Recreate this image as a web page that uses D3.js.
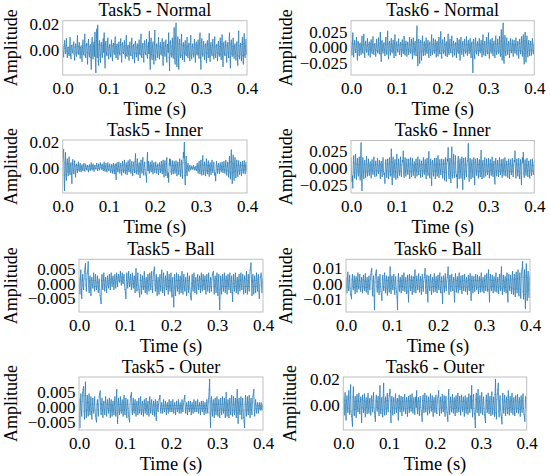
<!DOCTYPE html>
<html>
<head>
<meta charset="utf-8">
<script src="https://cdn.jsdelivr.net/npm/d3@7"></script>
<style>
  body { margin: 0; background: #fff; }
  text { font-family: "Liberation Serif", "Times New Roman", serif; fill: #000; }
</style>
</head>
<body>
<div id="chart"></div>
<script>
// signal samples, amplitude in units of 1e-4, one sample every 1 ms (0 .. 0.4 s)
var t5Normal = [
  40,-20,-55,25,70,10,-30,35,85,-15,-60,20,20,-30,-45,15,95,-40,-70,30,35,-10,-25,40,60,-35,-80,20,45,-25,-50,30,110,-20,-35,25,55,-30,-65,15,
  30,-35,-90,20,75,-25,-40,30,120,-45,-60,35,50,-20,-110,40,80,-30,-55,25,40,-60,-150,50,95,-40,-70,30,60,-50,135,-80,-176,70,160,-60,190,-90,-120,40,
  70,-40,-95,35,55,-25,-60,30,85,-20,130,-50,-140,45,65,-30,-45,25,90,-35,-70,20,40,-25,-55,35,75,-40,-85,30,50,-15,-35,40,100,-30,-60,25,45,-20,
  -75,30,60,-25,-40,35,85,-30,-95,40,55,-20,-30,25,70,-35,-65,30,110,-45,-50,20,35,-30,-80,25,60,-35,-45,20,90,-40,-70,30,40,-25,-100,45,65,-30,
  -55,20,45,-30,-85,35,75,-25,-40,30,120,-50,-60,25,50,-35,-95,40,70,-20,-35,30,80,-40,-65,25,55,-30,140,-60,-150,55,90,-35,-75,30,60,-45,-110,40,
  150,-50,-80,30,45,-20,-60,35,95,-40,-70,25,55,-30,-40,20,85,-45,-120,50,60,-25,-50,30,75,-35,-95,40,40,-20,130,-60,-160,55,70,-30,-55,25,90,-35,
  -65,60,170,-70,-110,90,206,-80,-130,60,100,-50,-150,45,80,-35,-60,40,120,-45,-75,30,55,-25,-90,35,70,-30,-45,20,95,-40,-60,25,50,-30,-85,40,110,-40,
  -70,25,45,-30,-55,20,80,-35,-95,40,60,-25,-40,30,75,-30,-65,50,130,-60,-150,55,85,-30,-50,25,65,-35,-75,30,45,-20,-100,40,70,-30,-60,45,125,-50,
  -90,35,55,-25,-45,30,80,-35,-70,25,100,-40,-60,30,40,-20,-85,35,65,-30,-50,25,90,-35,-75,45,115,-50,-130,45,60,-25,-45,30,70,-40,-95,35,55,-25,
  -60,50,130,-55,-140,45,75,-30,-50,25,90,-35,-65,30,45,-25,-80,30,60,-45,-120,60,145,-50,-70,30,50,-35,-85,40,95,-45,-110,50,125,-40,-60,30,80,-30,
  -40];
var t6Normal = [
  90,-50,-120,60,230,-90,-150,55,110,-40,-80,45,160,-70,-200,80,95,-45,-130,50,70,-35,-110,40,180,-60,-90,50,210,-85,-160,55,100,-40,-75,35,140,-55,-120,45,
  85,-40,-150,60,120,-50,-95,45,170,-65,-110,40,60,-30,-140,55,130,-50,-85,35,150,-55,-100,60,240,-100,-220,90,110,-45,-90,40,75,-35,-130,50,160,-60,-105,45,
  260,-90,-180,70,95,-40,-120,50,140,-55,-85,40,115,-50,-160,65,200,-80,-130,50,90,-35,-70,30,135,-55,-110,45,80,-35,-145,55,120,-45,-95,40,175,-70,-120,50,
  100,-45,-140,55,85,-35,-110,45,160,-60,-90,40,130,-55,-180,70,150,-60,-120,45,95,-40,-130,120,340,-130,-290,110,130,-90,-250,80,110,-70,-200,75,180,-60,-130,50,
  90,-40,-120,50,150,-55,-95,40,110,-50,-160,60,85,-35,-130,55,200,-75,-110,45,140,-50,-90,35,120,-45,-150,60,95,-40,-135,55,160,-60,-100,80,250,-90,-170,60,
  120,-50,-95,40,160,-60,-130,50,90,-40,-145,70,210,-80,-110,45,130,-50,-85,35,180,-70,-150,55,100,-40,-120,45,75,-35,-160,60,145,-55,-90,40,120,-70,-200,80,
  160,-60,-110,45,95,-40,-140,55,130,-50,-90,40,170,-65,-125,50,110,-45,-95,40,140,-55,-160,60,85,-150,-398,130,120,-70,-180,65,150,-55,-100,40,90,-45,-130,50,
  140,-50,-85,40,110,-45,-150,60,200,-75,-120,45,95,-40,-130,55,160,-60,-100,80,230,-85,-170,60,120,-45,-90,40,145,-55,-130,50,100,-45,-160,65,180,-70,-110,45,
  130,-50,-95,60,175,-65,-140,100,280,-110,-200,150,386,-140,-250,90,190,-70,-130,55,150,-55,-110,45,95,-40,-160,60,140,-50,-85,40,120,-45,-140,50,110,-40,-90,40,
  150,-55,-120,45,95,-50,-170,65,130,-50,-100,60,170,-65,-140,90,200,-100,-260,110,240,-100,-230,85,180,-70,-150,55,110,-45,-130,50,95,-40,-120,55,140,-50,-100,40,
  80];
var t5Inner = [
  50,90,145,-60,-176,40,120,-50,-95,30,70,-25,-60,35,85,-30,-50,20,40,-45,-120,30,65,-20,-45,25,55,-30,-70,20,30,-15,-35,20,45,-15,-25,15,35,-10,
  -30,10,25,-10,-20,15,35,-10,-25,10,30,-5,-15,10,20,-15,-30,10,25,-10,-20,15,40,-5,-15,20,30,-10,-25,15,20,-5,-10,20,35,-5,-20,15,30,-5,
  -15,25,40,5,-10,20,30,-5,-20,15,45,-10,-25,15,35,-15,-30,10,40,-10,-20,15,30,-15,-35,10,25,-20,-40,15,35,-20,-45,10,30,-40,-90,25,40,-15,
  -30,20,45,-15,-40,15,35,-20,-55,20,50,-15,-35,25,60,-20,-45,15,40,-20,-50,20,55,-10,-30,25,65,-20,-40,15,50,-25,-60,20,45,-15,-35,50,110,-30,
  -45,25,70,-20,-50,15,40,-25,-75,25,60,-15,-40,30,80,-25,-55,20,45,-15,-45,-60,-110,40,120,-20,50,-15,-40,15,45,-10,-30,20,55,-15,-45,15,40,-10,
  -35,15,45,-10,-40,15,30,-15,-50,20,40,-10,-35,15,50,-15,-45,20,60,-25,-70,25,55,-20,-60,30,80,-30,-75,-40,-110,30,70,20,65,-25,-50,20,55,-20,
  -45,20,50,-15,-40,20,55,-20,-60,25,45,-20,-50,25,70,-25,-65,30,60,-30,-80,40,120,80,199,-60,-130,40,90,-30,-60,15,35,-10,-25,10,20,-5,-15,5,
  15,-5,-10,5,20,-5,-15,5,10,-10,-20,10,35,-15,-40,15,50,-20,-45,20,60,-25,-55,30,95,-20,-50,20,45,-15,-60,25,70,-20,-45,20,55,-25,-65,20,
  40,-15,-50,20,60,-15,-35,15,45,-20,-55,-40,-100,20,50,-15,-40,15,35,-10,-45,15,40,-10,-30,15,45,-15,-35,10,50,-15,-40,20,60,-20,-55,15,45,-20,
  -70,35,90,-30,-85,50,140,-40,-120,35,100,-30,-95,30,80,-25,-75,20,60,-25,-65,20,55,-20,-50,15,45,-20,-60,20,50,-15,-40,20,55,-15,-45,15,40,-10,
  -30];
var t6Inner = [
  150,-60,-200,-120,-300,80,180,-70,-150,60,200,-80,-170,55,140,-50,-120,45,160,-60,-180,150,372,-120,-338,90,150,-60,-160,50,110,-45,-140,55,170,-60,-120,45,130,-50,
  -110,40,90,-35,-150,50,120,-45,-95,35,160,-55,-130,45,100,-40,-120,50,140,-50,-85,30,110,-45,-160,55,95,-35,-130,45,150,-55,-100,-80,-230,70,120,-45,-140,50,
  130,-55,-160,60,150,-50,-120,90,280,-100,-250,80,160,-60,-140,50,120,-55,-170,65,200,-70,-150,55,130,-45,-110,40,160,-55,-130,45,110,90,250,-80,-140,55,150,-55,
  -120,45,130,-40,-95,35,130,-50,-160,55,150,-50,-130,45,140,-50,-110,40,90,-35,-150,55,130,-45,-120,50,160,-55,-100,40,120,-45,-140,50,100,-40,-130,50,150,-50,
  -95,40,120,-50,-160,55,140,-45,-110,80,240,-90,-150,50,130,-90,-260,80,110,-45,-120,45,140,-50,-160,55,140,-45,-120,60,180,-65,-140,50,120,-40,-100,45,130,-50,
  -150,55,120,-60,-180,65,150,-70,-200,60,130,100,300,-100,-160,60,140,-80,-220,100,310,-110,-150,70,200,-70,-140,60,180,-60,-130,-100,-300,90,170,-60,-160,55,130,-50,
  -150,60,160,-100,-320,90,140,-60,-170,55,150,-50,-130,45,110,120,360,-120,-200,70,140,-55,-160,50,120,-45,-140,55,150,-80,-250,80,130,-45,-110,45,140,-55,-150,50,
  120,-50,-130,90,260,-90,-160,55,110,-45,-140,50,150,-50,-120,45,130,-45,-100,40,140,-55,-150,50,120,-40,-110,45,160,-55,-130,45,100,-80,-240,75,140,-50,-120,45,
  110,-45,-130,50,150,-50,-100,40,120,-45,-140,50,130,-45,-110,40,150,-55,-120,45,100,-40,-140,50,130,-55,-160,55,120,-45,-100,40,140,-50,-130,45,110,90,250,-80,
  -150,50,130,-45,-120,45,140,-55,-160,50,120,-80,-250,70,150,80,230,-80,-140,50,120,-45,-110,40,140,-50,-130,45,100,-40,-150,50,120,-45,-110,40,130,-45,-100,40,
  90];
var t5Ball = [
  20,-10,-35,15,45,-20,-50,10,30,-5,-20,15,40,50,67,-5,-25,15,35,45,73,-10,-30,10,25,-15,-40,10,20,-5,-15,10,35,-10,-25,10,30,-10,-20,5,
  25,-10,-30,5,15,-20,-40,-50,-67,10,30,-10,-20,10,35,-5,-25,10,20,-10,-30,5,25,-5,-15,10,30,0,-20,15,35,5,-10,15,25,0,-20,10,30,5,
  -15,15,35,5,-10,20,30,10,5,25,40,10,-5,20,35,5,0,20,30,-5,-20,-30,-50,10,35,0,-15,20,40,5,-10,15,30,-5,-20,15,35,0,-15,10,
  25,-10,-30,20,50,-5,-25,15,35,-5,-20,-30,-45,10,30,-10,-35,10,25,-10,-20,15,40,-10,-30,5,20,-15,-35,10,30,-10,-25,15,35,-5,-20,20,40,-10,
  -30,10,35,45,55,-5,-25,10,30,-15,-40,5,20,-15,-35,10,30,-10,-25,20,45,-10,-30,15,35,-15,-40,10,25,-5,-20,15,40,-10,-35,10,30,-10,-25,10,
  35,-15,-45,5,20,-40,-78,-10,30,-15,-40,10,35,-10,-25,10,30,-15,-35,10,25,-10,-30,15,40,-15,-35,10,30,-10,-25,5,20,-20,-40,10,35,-10,-30,10,
  25,-15,-35,-45,-55,0,30,-10,-25,10,35,-10,-30,5,20,-15,-35,10,30,-5,-20,10,25,-10,-30,15,35,-10,-25,10,30,-5,-20,10,25,-15,-35,10,30,-10,
  -25,10,35,-10,-30,5,20,-10,-25,15,30,35,40,-10,-35,10,25,-10,-30,15,35,-15,-40,10,30,-50,-87,-20,25,-10,-35,10,30,-10,-25,15,35,-10,-30,10,
  25,-10,-35,10,30,-5,-20,15,35,-10,-30,10,25,-30,-60,0,30,-10,-25,10,35,-10,-30,5,20,-15,-35,10,30,-10,-25,10,35,-5,-20,15,30,-10,-35,10,
  25,-10,-30,15,40,-10,-35,10,30,-10,-25,20,45,55,69,10,-40,5,30,-10,-35,10,25,-10,-30,10,35,-10,-25,15,30,-25,-50,-5,20,25,35,-10,-30,5,
  20];
var t6Ball = [
  40,-20,-60,30,75,-25,-45,20,55,-30,-70,-80,-99,25,60,-20,-40,15,50,-25,-65,20,45,-20,-55,25,70,-20,-35,20,60,-25,-50,15,40,-20,-60,25,55,-20,
  -45,20,65,-25,-55,15,40,-25,-70,20,50,-15,-40,30,60,80,99,-30,-80,20,50,-80,-170,10,60,70,90,-20,-55,15,45,-25,-70,25,60,-20,-50,-70,-110,30,
  55,-20,-45,25,70,-25,-60,20,50,-30,-75,20,45,-20,-55,40,110,-30,-65,20,50,-15,-40,20,60,-25,-70,15,45,-30,-55,-90,-170,20,65,-20,-50,15,40,-20,
  -60,20,55,-20,-45,25,70,-20,-50,15,40,-25,-65,20,55,-50,-120,25,60,-20,-45,20,50,-25,-70,20,45,-20,-55,40,90,-25,-60,20,50,-15,-40,25,65,-20,
  -55,20,45,-25,-70,25,60,-20,-50,15,40,60,100,-25,-65,20,55,-50,-120,20,50,-20,-45,25,60,-25,-70,15,40,-20,-55,25,65,-20,-50,15,45,-25,-60,20,
  55,-15,-40,25,70,-25,-60,15,45,-60,-130,15,50,-20,-55,25,65,-20,-45,15,40,60,110,-30,-70,20,55,-20,-50,25,60,-20,-45,15,40,-50,-120,25,65,-20,
  -55,20,45,-20,-60,25,70,-20,-40,15,50,-25,-65,20,55,-20,-45,20,60,-20,-50,15,40,-25,-70,20,55,-20,-45,25,65,-40,-110,20,50,-25,-60,20,45,-20,
  -50,20,60,-15,-40,20,55,-25,-65,20,45,-20,-55,25,70,-20,-50,15,40,-25,-60,20,55,-20,-45,25,65,-20,-50,40,90,-40,-120,25,60,-20,-45,20,55,-20,
  -60,20,45,-20,-50,25,70,-20,-55,15,40,-25,-65,25,60,-20,-45,50,110,-30,-70,20,55,-20,-50,15,45,-25,-60,25,70,-50,-120,25,60,-20,-45,20,55,-25,
  -65,30,80,-30,-70,25,60,-35,-85,30,75,-30,-60,35,90,-35,-80,30,70,-40,-95,40,85,100,144,-50,-100,40,90,-70,-164,50,130,-50,-110,40,80,-40,-90,30,
  60];
var t5Outer = [
  30,-30,-69,10,45,-10,-30,20,50,60,70,-15,-40,40,85,-10,-35,15,40,-10,-30,15,45,-10,-25,10,35,-15,-40,10,30,-10,-20,10,35,-10,-30,-40,-50,10,
  25,-10,-30,10,35,45,55,-5,-25,10,30,-10,-35,10,20,-10,-25,15,35,-10,-30,10,25,-5,-20,10,30,-10,-35,10,25,-10,-30,5,20,-10,-25,10,35,-10,
  -30,20,60,-20,-55,10,30,-10,-25,10,35,-10,-20,10,25,-10,-30,15,40,-10,-25,10,30,-10,-35,10,25,-5,-30,-40,-50,10,35,40,50,-10,-25,10,30,-10,
  -20,10,25,-10,-30,10,20,-5,-25,10,30,-10,-20,15,35,-10,-25,10,20,-10,-30,10,25,-5,-20,10,30,-10,-25,5,20,-10,-30,15,35,-5,-20,10,25,-10,
  -25,5,20,-10,-30,10,25,-20,-45,5,20,-5,-15,10,25,30,40,-5,-20,5,15,-5,-20,5,25,-5,-15,5,20,-5,-25,5,15,-5,-20,5,25,-5,-15,5,
  20,-5,-15,5,25,-5,-20,5,15,-5,-25,5,20,-5,-15,5,25,-5,-20,5,15,-5,-20,5,25,-5,-15,10,20,30,40,-5,-20,5,15,-5,-25,5,20,-5,
  -15,5,20,-5,-25,5,15,-5,-20,5,25,-5,-15,5,20,-5,-15,5,25,-5,-20,5,15,-5,-25,5,20,-5,-15,5,20,-5,-25,5,15,-5,-20,5,25,-5,
  -20,15,30,60,94,-20,-68,20,35,-10,-30,10,25,-10,-35,10,30,-10,-25,10,35,-10,-30,10,25,-10,-35,10,30,-5,-25,10,35,-10,-20,10,30,-10,-35,15,
  50,-10,-30,10,25,-10,-35,10,30,-10,-25,15,40,-10,-30,10,35,-10,-25,10,30,-10,-35,20,60,-20,-55,15,30,-10,-25,10,35,-15,-40,10,30,-10,-35,-50,
  -69,10,40,-10,-30,10,35,-10,-25,15,40,-10,-35,10,30,-10,-25,15,35,45,60,-10,-30,10,25,-5,-20,5,15,-5,-20,5,15,-5,-10,5,15,-5,-10,5,
  10];
var t6Outer = [
  60,-30,-80,35,95,-45,-120,30,70,-25,-60,40,110,-30,-75,60,156,-50,-90,-120,-169,60,140,-40,-85,25,65,-35,-100,30,80,-25,-55,30,90,-30,-70,25,60,-25,
  -140,40,75,-25,-60,30,85,-35,-95,25,55,-20,-70,35,90,-30,-65,20,50,-25,-80,30,70,-20,-55,35,95,-25,-60,-90,-130,30,75,-20,-50,25,65,-30,-85,50,
  150,-40,-70,25,55,-35,-95,60,169,-40,-80,25,60,-30,-75,35,90,-25,-55,30,70,90,120,-50,-140,30,65,-25,-80,30,55,-25,-70,30,85,-30,-60,20,50,-25,
  -120,35,75,-25,-55,25,65,-30,-85,25,60,-20,-50,30,80,-30,-70,25,55,-30,-90,30,65,-25,-60,30,75,-20,-50,35,85,-30,-65,20,55,-30,-75,25,60,-20,
  110,-35,-70,25,55,-30,-85,25,65,-20,-50,-80,-130,35,75,-25,-60,35,90,-30,-55,25,70,-30,-80,25,60,-25,-65,30,85,-20,-50,25,70,-35,-90,25,55,-25,
  -60,30,75,-30,-70,20,55,70,110,-35,-85,30,60,-25,-65,30,80,-25,-55,20,70,-35,-90,25,65,-20,-60,-80,-130,50,120,-40,-75,25,60,-20,-55,30,80,-30,
  -65,25,55,-30,-85,30,70,-25,-60,35,90,-25,-55,20,65,-30,-80,30,75,-20,-50,25,60,-35,-90,30,70,-25,-65,20,55,-30,-75,35,85,-25,-60,25,70,-30,
  150,-40,-95,30,80,-30,-70,-110,-179,40,90,-25,-60,50,120,-35,-85,25,70,-25,-65,35,95,-30,-75,20,60,-30,-80,-100,-140,30,75,-25,-60,35,90,-30,-70,25,
  65,-30,-85,40,100,-30,-75,25,60,-40,-90,80,199,-60,-110,40,85,120,170,-50,-95,30,70,-35,-80,-100,-150,40,90,-25,-65,30,75,-35,-85,25,60,-25,-70,40,
  110,-30,-80,25,65,-20,-60,35,90,-30,-75,20,55,-35,-85,30,70,-25,-60,30,80,-30,-65,20,55,-35,-90,30,70,-25,-60,35,85,-30,-75,-90,-130,30,65,-20,
  -50];

var sampleStep = 0.001;   // seconds between samples
var ampUnit = 1e-4;

var titles = ["Task5 - Normal", "Task6 - Normal", "Task5 - Inner", "Task6 - Inner",
              "Task5 - Ball", "Task6 - Ball", "Task5 - Outer", "Task6 - Outer"];
var xTicks = [0, 0.1, 0.2, 0.3, 0.4];
var xTickLabels = ["0.0", "0.1", "0.2", "0.3", "0.4"];
var yTicks2 = [0, 0.02];
var yTickLabels2 = ["0.00", "0.02"];
var yTicks025 = [-0.025, 0, 0.025];
var yTickLabels025 = ["\u22120.025", "0.000", "0.025"];
var yTicks005 = [-0.005, 0, 0.005];
var yTickLabels005 = ["\u22120.005", "0.000", "0.005"];
var yTicks01 = [-0.01, 0, 0.01];
var yTickLabels01 = ["\u22120.01", "0.00", "0.01"];

// panel boxes in page pixels (layout only)
var panels = [
  {sig: t5Normal, yt: yTicks2,   yl: yTickLabels2,   x0: 62.7, x1: 247,   y0: 20.7,  y1: 75,  lx: 17},
  {sig: t6Normal, yt: yTicks025, yl: yTickLabels025, x0: 351,  x1: 534.3, y0: 20.7,  y1: 75,  lx: 292},
  {sig: t5Inner,  yt: yTicks2,   yl: yTickLabels2,   x0: 62.7, x1: 247,   y0: 140,   y1: 193, lx: 17},
  {sig: t6Inner,  yt: yTicks025, yl: yTickLabels025, x0: 351,  x1: 534.3, y0: 140.5, y1: 193, lx: 292},
  {sig: t5Ball,   yt: yTicks005, yl: yTickLabels005, x0: 79,   x1: 263,   y0: 259.3, y1: 312, lx: 17},
  {sig: t6Ball,   yt: yTicks01,  yl: yTickLabels01,  x0: 346,  x1: 530,   y0: 259.3, y1: 312, lx: 292},
  {sig: t5Outer,  yt: yTicks005, yl: yTickLabels005, x0: 79,   x1: 263,   y0: 377,   y1: 430, lx: 17},
  {sig: t6Outer,  yt: yTicks2,   yl: yTickLabels2,   x0: 343.3,x1: 526.7, y0: 377,   y1: 430, lx: 296}
];

var serif = "'Liberation Serif', 'Times New Roman', serif";

var svg = d3.select("#chart")
  .append("svg")
  .attr("width", 550)
  .attr("height", 476);

panels.forEach(function(p, k) {
  var data = p.sig.map(function(v, i) { return {t: i * sampleStep, a: v * ampUnit}; });
  var ext = d3.extent(data, function(d) { return d.a; });
  var pad = (ext[1] - ext[0]) * 0.05;

  var x = d3.scaleLinear().domain([0, 0.4]).range([p.x0, p.x1]);
  var y = d3.scaleLinear().domain([ext[0] - pad, ext[1] + pad]).range([p.y1, p.y0]);

  var clipId = "clip" + k;
  svg.append("clipPath").attr("id", clipId)
    .append("rect")
    .attr("x", p.x0).attr("y", p.y0)
    .attr("width", p.x1 - p.x0).attr("height", p.y1 - p.y0);

  // one segment per sample step, so overlaps build up the dense core
  svg.append("g")
    .attr("clip-path", "url(#" + clipId + ")")
    .selectAll("line")
    .data(d3.pairs(data))
    .enter()
    .append("line")
    .attr("x1", function(d) { return x(d[0].t); })
    .attr("y1", function(d) { return y(d[0].a); })
    .attr("x2", function(d) { return x(d[1].t); })
    .attr("y2", function(d) { return y(d[1].a); })
    .attr("stroke", "#1f77b4")
    .attr("stroke-opacity", 0.8)
    .attr("stroke-width", 0.9)
    .attr("stroke-linecap", "round");

  // frame
  svg.append("rect")
    .attr("x", p.x0).attr("y", p.y0)
    .attr("width", p.x1 - p.x0).attr("height", p.y1 - p.y0)
    .attr("fill", "none")
    .attr("stroke", "#bfbfbf")
    .attr("stroke-width", 1);

  // axes
  var gx = svg.append("g")
    .attr("transform", "translate(0," + p.y1 + ")")
    .call(d3.axisBottom(x).tickValues(xTicks).tickSize(0).tickPadding(7)
      .tickFormat(function(d, i) { return xTickLabels[i]; }));
  var gy = svg.append("g")
    .attr("transform", "translate(" + p.x0 + ",0)")
    .call(d3.axisLeft(y).tickValues(p.yt).tickSize(0).tickPadding(3.5)
      .tickFormat(function(d, i) { return p.yl[i]; }));
  [gx, gy].forEach(function(g) {
    g.attr("font-family", serif).attr("font-size", 17);
    g.select(".domain").remove();
    g.selectAll("text")
      .style("font-family", serif)
      .style("font-size", "17px")
      .attr("fill", "#000");
  });

  // title
  svg.append("text")
    .attr("x", (p.x0 + p.x1) / 2)
    .attr("y", p.y0 - 4.5)
    .attr("text-anchor", "middle")
    .style("font-size", "18px")
    .text(titles[k]);

  // x label
  svg.append("text")
    .attr("x", (p.x0 + p.x1) / 2)
    .attr("y", p.y1 + 39.5)
    .attr("text-anchor", "middle")
    .style("font-size", "18.5px")
    .text("Time (s)");

  // y label
  svg.append("text")
    .attr("transform", "translate(" + p.lx + "," + ((p.y0 + p.y1) / 2) + ") rotate(-90)")
    .attr("text-anchor", "middle")
    .style("font-size", "18px")
    .text("Amplitude");
});
</script>
</body>
</html>
